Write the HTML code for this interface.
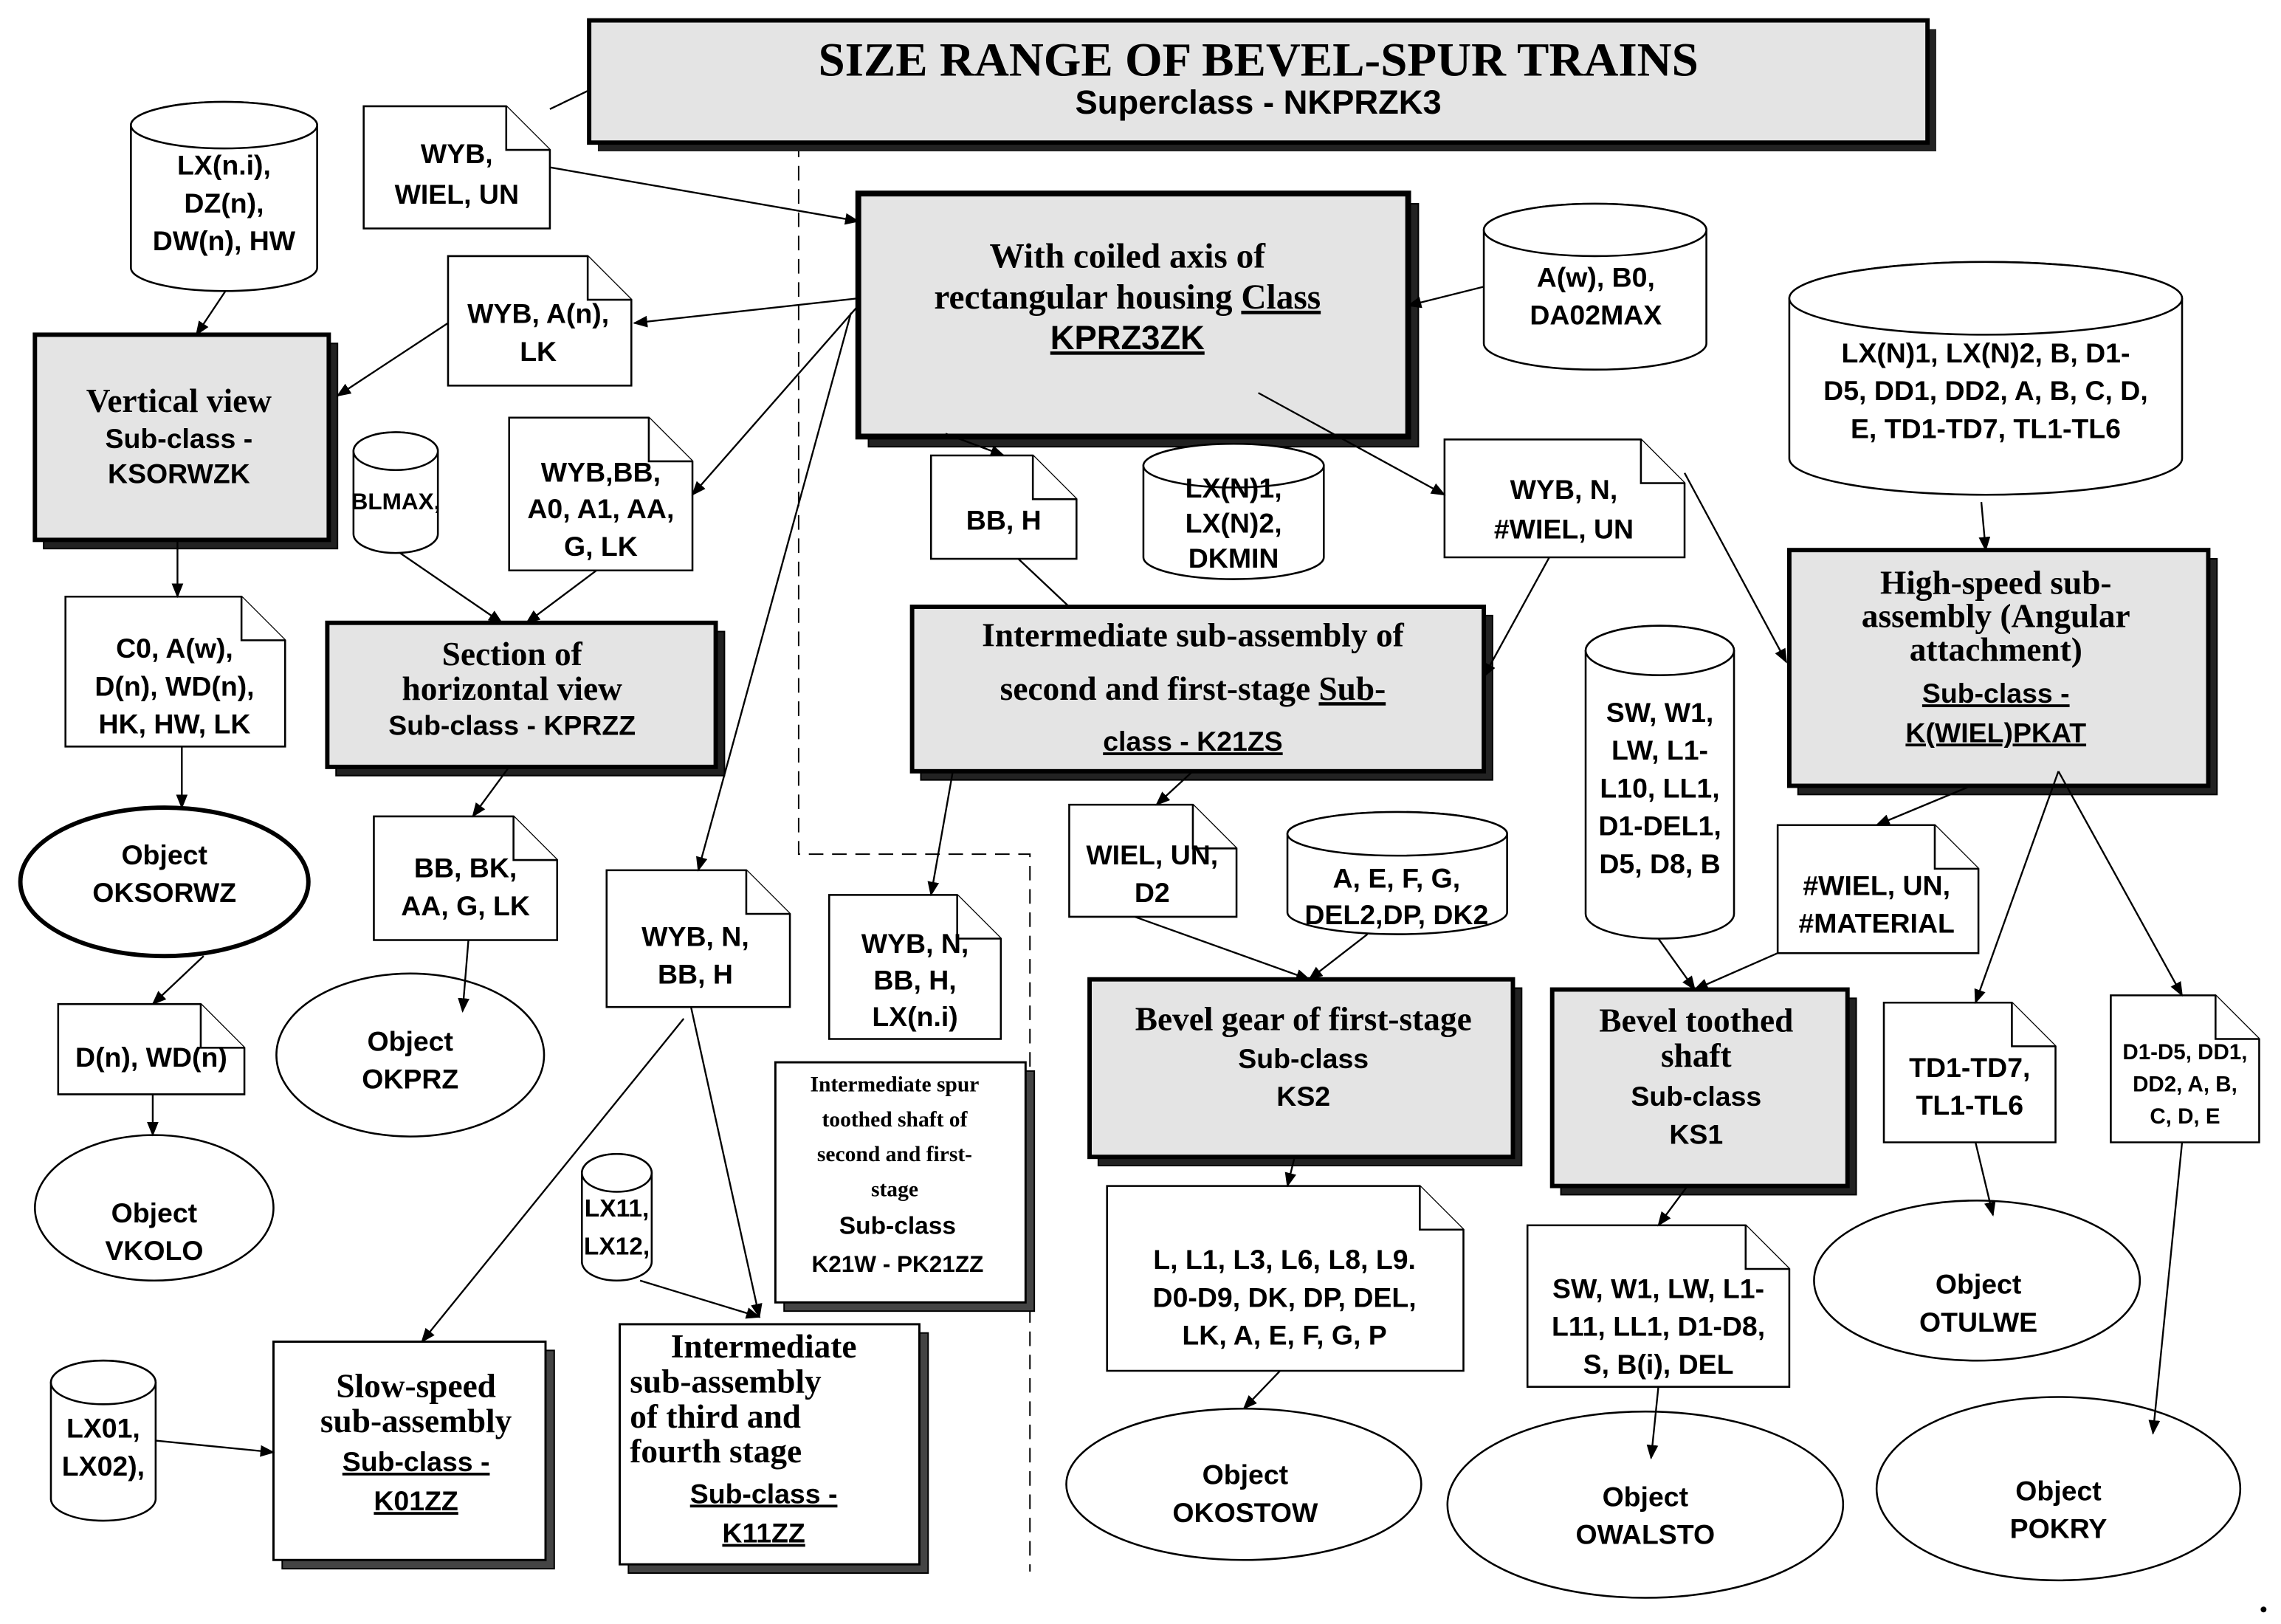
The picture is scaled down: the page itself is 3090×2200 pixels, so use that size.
<!DOCTYPE html>
<html><head><meta charset="utf-8"><style>
html,body{margin:0;padding:0;background:#fff}
svg{display:block}
.n{font-family:"Liberation Sans",sans-serif;font-weight:bold;font-size:19px;fill:#000}
.s{font-family:"Liberation Serif",serif;font-weight:bold;font-size:23px;fill:#000}
.sm{font-size:15px}
.ser{font-family:"Liberation Serif",serif;font-weight:bold;font-size:15px}
</style></head><body>
<svg width="3090" height="2200" viewBox="0 0 1568 1116" preserveAspectRatio="none" xmlns="http://www.w3.org/2000/svg">
<defs><marker id="a" markerWidth="10" markerHeight="8" refX="9" refY="4" orient="auto" markerUnits="userSpaceOnUse"><path d="M0,0 L10,4 L0,8 Z" fill="#000"/></marker></defs>
<g fill="none" stroke="#000" stroke-width="1">
<path d="M549,98 V587 H708 V1080" stroke-dasharray="10,6"/>
</g>
<rect x="411" y="20" width="920" height="84" fill="#222"/>
<rect x="405" y="14" width="920" height="84" fill="#e4e4e4" stroke="#000" stroke-width="3"/>
<text x="865" y="52" class="s" text-anchor="middle" style="font-size:33px">SIZE RANGE OF BEVEL-SPUR TRAINS</text>
<text x="865" y="78" class="n" text-anchor="middle" style="font-size:23px">Superclass -  NKPRZK3</text>

<g stroke="#000">
<rect x="597" y="140" width="378" height="167" fill="#222"/>
<rect x="590" y="133" width="378" height="167" fill="#e4e4e4" stroke-width="4"/>
<rect x="30" y="236" width="202" height="141" fill="#222"/>
<rect x="24" y="230" width="202" height="141" fill="#e4e4e4" stroke-width="3"/>
<rect x="231" y="434" width="267" height="99" fill="#222"/>
<rect x="225" y="428" width="267" height="99" fill="#e4e4e4" stroke-width="3"/>
<rect x="633" y="423" width="393" height="113" fill="#222"/>
<rect x="627" y="417" width="393" height="113" fill="#e4e4e4" stroke-width="3"/>
<rect x="1236" y="384" width="288" height="162" fill="#222"/>
<rect x="1230" y="378" width="288" height="162" fill="#e4e4e4" stroke-width="3"/>
<rect x="755" y="679" width="291" height="122" fill="#222"/>
<rect x="749" y="673" width="291" height="122" fill="#e4e4e4" stroke-width="3"/>
<rect x="1073" y="686" width="203" height="135" fill="#222"/>
<rect x="1067" y="680" width="203" height="135" fill="#e4e4e4" stroke-width="3"/>
<rect x="194" y="928" width="187" height="150" fill="#444"/>
<rect x="188" y="922" width="187" height="150" fill="#fff" stroke-width="1.5"/>
<rect x="432" y="916" width="206" height="165" fill="#444"/>
<rect x="426" y="910" width="206" height="165" fill="#fff" stroke-width="1.5"/>
<rect x="539" y="736" width="172" height="165" fill="#444"/>
<rect x="533" y="730" width="172" height="165" fill="#fff" stroke-width="1.5"/>
</g>

<g fill="#fff" stroke="#000" stroke-width="1.3">
<path d="M250,73 H348 L378,103 V157 H250 Z"/><path d="M348,73 V103 H378"/>
<path d="M308,176 H404 L434,206 V265 H308 Z"/><path d="M404,176 V206 H434"/>
<path d="M350,287 H446 L476,317 V392 H350 Z"/><path d="M446,287 V317 H476"/>
<path d="M45,410 H166 L196,440 V513 H45 Z"/><path d="M166,410 V440 H196"/>
<path d="M257,561 H353 L383,591 V646 H257 Z"/><path d="M353,561 V591 H383"/>
<path d="M40,690 H138 L168,720 V752 H40 Z"/><path d="M138,690 V720 H168"/>
<path d="M417,598 H513 L543,628 V692 H417 Z"/><path d="M513,598 V628 H543"/>
<path d="M570,615 H658 L688,645 V714 H570 Z"/><path d="M658,615 V645 H688"/>
<path d="M640,313 H710 L740,343 V384 H640 Z"/><path d="M710,313 V343 H740"/>
<path d="M993,302 H1128 L1158,332 V383 H993 Z"/><path d="M1128,302 V332 H1158"/>
<path d="M735,553 H820 L850,583 V630 H735 Z"/><path d="M820,553 V583 H850"/>
<path d="M1222,567 H1330 L1360,597 V655 H1222 Z"/><path d="M1330,567 V597 H1360"/>
<path d="M1295,689 H1383 L1413,719 V785 H1295 Z"/><path d="M1383,689 V719 H1413"/>
<path d="M1451,684 H1523 L1553,714 V785 H1451 Z"/><path d="M1523,684 V714 H1553"/>
<path d="M761,815 H976 L1006,845 V942 H761 Z"/><path d="M976,815 V845 H1006"/>
<path d="M1050,842 H1200 L1230,872 V953 H1050 Z"/><path d="M1200,842 V872 H1230"/>
</g>

<g fill="#fff" stroke="#000" stroke-width="1.3">
<path d="M90,86 A64,16 0 0 1 218,86 V184 A64,16 0 0 1 90,184 Z"/><ellipse cx="154" cy="86" rx="64" ry="16"/>
<path d="M243,310 A29,13 0 0 1 301,310 V367 A29,13 0 0 1 243,367 Z"/><ellipse cx="272" cy="310" rx="29" ry="13"/>
<path d="M1020,158 A76.5,18 0 0 1 1173,158 V236 A76.5,18 0 0 1 1020,236 Z"/><ellipse cx="1096.5" cy="158" rx="76.5" ry="18"/>
<path d="M786,320 A62,15 0 0 1 910,320 V383 A62,15 0 0 1 786,383 Z"/><ellipse cx="848" cy="320" rx="62" ry="15"/>
<path d="M1230,205 A135,25 0 0 1 1500,205 V315 A135,25 0 0 1 1230,315 Z"/><ellipse cx="1365" cy="205" rx="135" ry="25"/>
<path d="M1090,447 A51,17 0 0 1 1192,447 V628 A51,17 0 0 1 1090,628 Z"/><ellipse cx="1141" cy="447" rx="51" ry="17"/>
<path d="M885,573 A75.5,15 0 0 1 1036,573 V627 A75.5,15 0 0 1 885,627 Z"/><ellipse cx="960.5" cy="573" rx="75.5" ry="15"/>
<path d="M400,806 A24,13 0 0 1 448,806 V867 A24,13 0 0 1 400,867 Z"/><ellipse cx="424" cy="806" rx="24" ry="13"/>
<path d="M35,950 A36,15 0 0 1 107,950 V1030 A36,15 0 0 1 35,1030 Z"/><ellipse cx="71" cy="950" rx="36" ry="15"/>
</g>

<g fill="#fff" stroke="#000">
<ellipse cx="113" cy="606" rx="99" ry="51" stroke-width="3"/>
<ellipse cx="282" cy="725" rx="92" ry="56" stroke-width="1.3"/>
<ellipse cx="106" cy="830" rx="82" ry="50" stroke-width="1.3"/>
<ellipse cx="855" cy="1020" rx="122" ry="52" stroke-width="1.3"/>
<ellipse cx="1131" cy="1034" rx="136" ry="64" stroke-width="1.3"/>
<ellipse cx="1359" cy="880" rx="112" ry="55" stroke-width="1.3"/>
<ellipse cx="1415" cy="1023" rx="125" ry="63" stroke-width="1.3"/>
</g>

<g stroke="#000" stroke-width="1.2" fill="none" marker-end="url(#a)">
<path d="M378,115 L590,152"/>
<path d="M590,205 L436,222"/>
<path d="M308,222 L232,272"/>
<path d="M155,200 L135,230"/>
<path d="M590,210 L476,340"/>
<path d="M275,380 L345,428"/>
<path d="M410,392 L362,428"/>
<path d="M122,371 L122,410"/>
<path d="M125,513 L125,555"/>
<path d="M140,657 L105,690"/>
<path d="M105,752 L105,780"/>
<path d="M350,527 L325,561"/>
<path d="M322,646 L318,695"/>
<path d="M585,215 L480,598"/>
<path d="M470,700 L290,922"/>
<path d="M475,692 L522,905"/>
<path d="M440,880 L522,905"/>
<path d="M650,298 L690,313"/>
<path d="M865,270 L993,340"/>
<path d="M1065,383 L1020,465"/>
<path d="M1158,325 L1228,455"/>
<path d="M1020,197 L968,210"/>
<path d="M1362,345 L1365,378"/>
<path d="M655,530 L640,615"/>
<path d="M820,530 L795,553"/>
<path d="M780,630 L900,673"/>
<path d="M940,642 L900,673"/>
<path d="M1140,645 L1165,680"/>
<path d="M1222,655 L1165,680"/>
<path d="M1355,540 L1290,567"/>
<path d="M1415,530 L1358,689"/>
<path d="M1415,530 L1500,684"/>
<path d="M1358,785 L1370,835"/>
<path d="M1500,785 L1480,985"/>
<path d="M890,795 L885,815"/>
<path d="M880,942 L855,968"/>
<path d="M1160,815 L1140,842"/>
<path d="M1140,953 L1135,1002"/>
<path d="M107,990 L188,998"/>
</g>
<g stroke="#000" stroke-width="1.2" fill="none">
<path d="M405,62 L378,75"/>
<path d="M700,384 L735,417"/>
</g>
<circle cx="1556" cy="1106" r="2" fill="#000"/>

<g class="n" text-anchor="middle">
<text x="314" y="112">WYB,</text><text x="314" y="140">WIEL, UN</text>
<text x="370" y="222">WYB, A(n),</text><text x="370" y="248">LK</text>
<text x="413" y="331">WYB,BB,</text><text x="413" y="356">A0, A1, AA,</text><text x="413" y="382">G,  LK</text>
<text x="120" y="452">C0, A(w),</text><text x="120" y="478">D(n), WD(n),</text><text x="120" y="504">HK, HW,  LK</text>
<text x="320" y="603">BB, BK,</text><text x="320" y="629">AA, G, LK</text>
<text x="104" y="733">D(n), WD(n)</text>
<text x="478" y="650">WYB, N,</text><text x="478" y="676">BB, H</text>
<text x="629" y="655">WYB, N,</text><text x="629" y="680">BB, H,</text><text x="629" y="705">LX(n.i)</text>
<text x="690" y="364">BB, H</text>
<text x="1075" y="343">WYB, N,</text><text x="1075" y="370">#WIEL, UN</text>
<text x="792" y="594">WIEL, UN,</text><text x="792" y="620">D2</text>
<text x="1290" y="615">#WIEL, UN,</text><text x="1290" y="641">#MATERIAL</text>
<text x="1354" y="740">TD1-TD7,</text><text x="1354" y="766">TL1-TL6</text>
<g class="n sm"><text x="1502" y="728">D1-D5, DD1,</text><text x="1502" y="750">DD2, A, B,</text><text x="1502" y="772">C, D, E</text></g>
<text x="883" y="872">L, L1, L3, L6, L8, L9.</text><text x="883" y="898">D0-D9, DK, DP, DEL,</text><text x="883" y="924">LK, A, E, F, G, P</text>
<text x="1140" y="892">SW, W1, LW, L1-</text><text x="1140" y="918">L11, LL1, D1-D8,</text><text x="1140" y="944">S, B(i), DEL</text>
<text x="154" y="120">LX(n.i),</text><text x="154" y="146">DZ(n),</text><text x="154" y="172">DW(n), HW</text>
<text x="272" y="350" style="font-size:16px">BLMAX,</text>
<text x="1097" y="197">A(w), B0,</text><text x="1097" y="223">DA02MAX</text>
<text x="848" y="342">LX(N)1,</text><text x="848" y="366">LX(N)2,</text><text x="848" y="390">DKMIN</text>
<text x="1365" y="249">LX(N)1, LX(N)2, B, D1-</text><text x="1365" y="275">D5, DD1, DD2, A, B, C, D,</text><text x="1365" y="301">E, TD1-TD7, TL1-TL6</text>
<text x="1141" y="496">SW, W1,</text><text x="1141" y="522">LW, L1-</text><text x="1141" y="548">L10, LL1,</text><text x="1141" y="574">D1-DEL1,</text><text x="1141" y="600">D5, D8, B</text>
<text x="960" y="610">A, E, F, G,</text><text x="960" y="635">DEL2,DP, DK2</text>
<text x="424" y="836" style="font-size:17px">LX11,</text><text x="424" y="862" style="font-size:17px">LX12,</text>
<text x="71" y="988">LX01,</text><text x="71" y="1014">LX02),</text>
<text x="113" y="594">Object</text><text x="113" y="620">OKSORWZ</text>
<text x="282" y="722">Object</text><text x="282" y="748">OKPRZ</text>
<text x="106" y="840">Object</text><text x="106" y="866">VKOLO</text>
<text x="856" y="1020">Object</text><text x="856" y="1046">OKOSTOW</text>
<text x="1131" y="1035">Object</text><text x="1131" y="1061">OWALSTO</text>
<text x="1360" y="889">Object</text><text x="1360" y="915">OTULWE</text>
<text x="1415" y="1031">Object</text><text x="1415" y="1057">POKRY</text>
</g>
<g text-anchor="middle">
<text x="775" y="184" class="s" style="font-size:24px">With coiled axis of</text>
<text x="775" y="212" class="s" style="font-size:24px">rectangular housing <tspan text-decoration="underline">Class</tspan></text>
<text x="775" y="240" class="n" style="font-size:23px" text-decoration="underline">KPRZ3ZK</text>
<text x="123" y="283" class="s">Vertical view</text><text x="123" y="308" class="n">Sub-class -</text><text x="123" y="332" class="n">KSORWZK</text>
<text x="352" y="457" class="s">Section of</text><text x="352" y="481" class="s">horizontal view</text><text x="352" y="505" class="n">Sub-class - KPRZZ</text>
<text x="820" y="444" class="s">Intermediate sub-assembly of</text>
<text x="820" y="481" class="s">second and first-stage <tspan text-decoration="underline">Sub-</tspan></text>
<text x="820" y="516" class="n" text-decoration="underline">class - K21ZS</text>
<text x="1372" y="408" class="s">High-speed sub-</text><text x="1372" y="431" class="s">assembly (Angular</text><text x="1372" y="454" class="s">attachment)</text>
<text x="1372" y="483" class="n" text-decoration="underline">Sub-class -</text><text x="1372" y="510" class="n" text-decoration="underline">K(WIEL)PKAT</text>
<text x="896" y="708" class="s">Bevel gear of first-stage</text><text x="896" y="734" class="n">Sub-class</text><text x="896" y="760" class="n">KS2</text>
<text x="1166" y="709" class="s">Bevel toothed</text><text x="1166" y="733" class="s">shaft</text><text x="1166" y="760" class="n">Sub-class</text><text x="1166" y="786" class="n">KS1</text>
<text x="286" y="960" class="s">Slow-speed</text><text x="286" y="984" class="s">sub-assembly</text><text x="286" y="1011" class="n" text-decoration="underline">Sub-class -</text><text x="286" y="1038" class="n" text-decoration="underline">K01ZZ</text>
<text x="525" y="933" class="s" text-anchor="middle">Intermediate</text>
<text x="433" y="957" class="s" text-anchor="start">sub-assembly</text><text x="433" y="981" class="s" text-anchor="start">of third and</text><text x="433" y="1005" class="s" text-anchor="start">fourth stage</text>
<text x="525" y="1033" class="n" text-decoration="underline">Sub-class -</text><text x="525" y="1060" class="n" text-decoration="underline">K11ZZ</text>
<text x="615" y="750" class="ser">Intermediate spur</text><text x="615" y="774" class="ser">toothed shaft of</text><text x="615" y="798" class="ser">second and first-</text><text x="615" y="822" class="ser">stage</text>
<text x="617" y="848" class="n" style="font-size:17px">Sub-class</text><text x="617" y="874" class="n" style="font-size:16px">K21W - PK21ZZ</text>
</g>
</svg>
</body></html>
